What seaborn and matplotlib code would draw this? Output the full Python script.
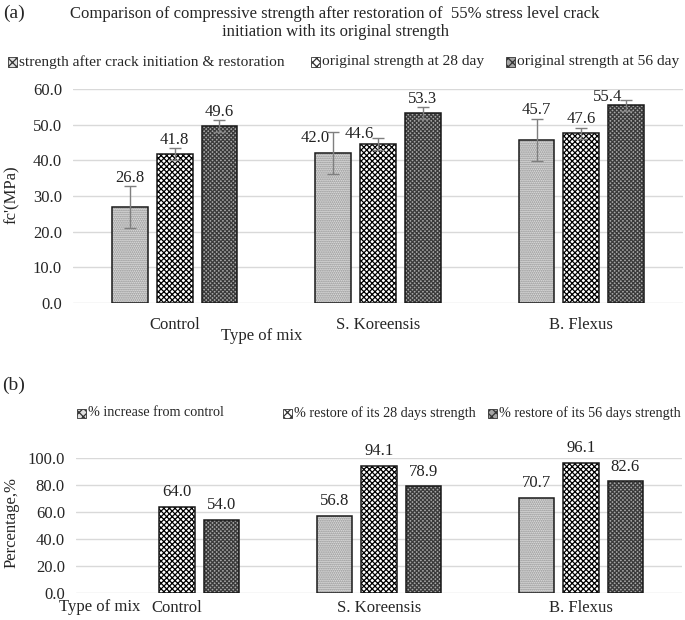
import numpy as np
import pandas as pd
import matplotlib
matplotlib.use("Agg")
import matplotlib.pyplot as plt
import seaborn as sns
from matplotlib.patches import Rectangle

# ---------------- data ----------------
mixes = ["Control", "S. Koreensis", "B. Flexus"]

a_series = ["strength after crack initiation & restoration",
            "original strength at 28 day",
            "original strength at 56 day"]
a_restored = [26.8, 42.0, 45.7]
a_orig28 = [41.8, 44.6, 47.6]
a_orig56 = [49.6, 53.3, 55.4]
a_err_restored = [5.9, 5.9, 6.0]
a_err_orig28 = [1.7, 1.6, 1.6]
a_err_orig56 = [1.6, 1.7, 1.6]

b_series = ["% increase from control",
            "% restore of its 28 days strength",
            "% restore of its 56 days strength"]
b_increase = [np.nan, 56.8, 70.7]
b_restore28 = [64.0, 94.1, 96.1]
b_restore56 = [54.0, 78.9, 82.6]

a_ticks = [0, 10, 20, 30, 40, 50, 60]
b_ticks = [0, 20, 40, 60, 80, 100]

# ---------------- style ----------------
sns.set_theme(style="white")
plt.rcParams["font.family"] = ["Liberation Serif", "DejaVu Serif"]
plt.rcParams["font.size"] = 12
plt.rcParams["hatch.linewidth"] = 0.9

FS = 12
styles = [
    dict(facecolor="#e0e0e0", hatch="........", edgecolor="#8a8a8a"),
    dict(facecolor="#ffffff", hatch="xxxxxx", edgecolor="#000000"),
    dict(facecolor="#a6a6a6", hatch="xxxxxxxx", edgecolor="#3a3a3a"),
]
OUTLINE = "#1a1a1a"
GRID = "#d9d9d9"
ERR = "#7f7f7f"

fig = plt.figure(figsize=(6.85, 6.2), dpi=100)
W, H = 685.0, 620.0


def px_axes(l, t, r, b):
    return fig.add_axes([l / W, 1 - b / H, (r - l) / W, (b - t) / H])


def build_df(series_names, cols):
    rows = []
    for s, vals in zip(series_names, cols):
        for m, v in zip(mixes, vals):
            rows.append(dict(mix=m, series=s, value=v))
    return pd.DataFrame(rows)


def style_axes(ax, ticks, ymax, xpad):
    ax.set_ylim(0, ymax)
    ax.set_xlim(-0.5, 2.5)
    ax.set_yticks(ticks)
    ax.set_yticklabels([f"{t:.1f}" for t in ticks], fontsize=FS)
    ax.tick_params(axis="y", length=0, pad=8)
    ax.tick_params(axis="x", length=0, pad=xpad, labelsize=FS)
    for sp in ax.spines.values():
        sp.set_visible(False)
    ax.yaxis.grid(True, color=GRID, lw=1)
    ax.set_axisbelow(True)
    ax.set_xlabel("")
    ax.set_ylabel("")
    if ax.get_legend():
        ax.get_legend().remove()


def apply_styles(ax, conts):
    for cont, st in zip(conts, styles):
        for bar in cont:
            bar.set_facecolor(st["facecolor"])
            bar.set_hatch(st["hatch"])
            bar.set_edgecolor(st["edgecolor"])
            bar.set_linewidth(0)
            h = bar.get_height()
            if np.isnan(h):
                continue
            ax.add_patch(Rectangle((bar.get_x(), bar.get_y()), bar.get_width(), h,
                                   fill=False, edgecolor=OUTLINE, lw=1.1, zorder=bar.get_zorder() + 0.1))


def legend_row(y, xs, labels, fs):
    for x, lab, st in zip(xs, labels, styles):
        fig.add_artist(Rectangle((x / W, 1 - (y + 4.5) / H), 9 / W, 9 / H,
                                 transform=fig.transFigure, lw=0.6,
                                 facecolor=st["facecolor"], hatch="xxxx",
                                 edgecolor="#333333"))
        fig.text((x + 11) / W, 1 - y / H, lab, ha="left", va="center", fontsize=fs)


# ---------------- (a) ----------------
axA = px_axes(73, 89, 683, 303)
dfa = build_df(a_series, [a_restored, a_orig28, a_orig56])
sns.barplot(data=dfa, x="mix", y="value", hue="series", order=mixes,
            hue_order=a_series, errorbar=None, width=0.66, gap=0.2,
            ax=axA, legend=False)
style_axes(axA, a_ticks, 60, 10)
contsA = list(axA.containers)
apply_styles(axA, contsA)

a_errs = [a_err_restored, a_err_orig28, a_err_orig56]
a_vals = [a_restored, a_orig28, a_orig56]
# labels that Excel placed beside (left of) the error bar
beside = {(1, 0): 4.3, (1, 1): 2.8, (2, 2): 2.4}
for si, cont in enumerate(contsA):
    for ci, bar in enumerate(cont):
        xc = bar.get_x() + bar.get_width() / 2
        h = bar.get_height()
        e = a_errs[si][ci]
        axA.errorbar(xc, h, yerr=e, fmt="none", ecolor=ERR, elinewidth=1.0,
                     capsize=4, capthick=1.0, zorder=5)
        if (ci, si) in beside:
            tx, ty = xc - 0.09, h + beside[(ci, si)]
        else:
            tx, ty = xc, h + e + 2.3
        axA.text(tx, ty, f"{a_vals[si][ci]:.1f}", ha="center", va="center",
                 fontsize=FS, color="#222222", clip_on=False)

fig.text(262 / W, 1 - 336 / H, "Type of mix", ha="center", va="center", fontsize=FS)
fig.text(12 / W, 1 - 195 / H, "fc'(MPa)", rotation=90, ha="center", va="center", fontsize=FS)
fig.text(3 / W, 1 - 13 / H, "(a)", ha="left", va="center", fontsize=14)
fig.text(335 / W, 1 - 23 / H,
         "Comparison of compressive strength after restoration of  55% stress level crack\ninitiation with its original strength",
         ha="center", va="center", fontsize=FS, linespacing=1.25)

legend_row(62, [8, 311, 506], a_series, 11.1)

# ---------------- (b) ----------------
axB = px_axes(76, 458, 682, 593)
dfb = build_df(b_series, [b_increase, b_restore28, b_restore56])
sns.barplot(data=dfb, x="mix", y="value", hue="series", order=mixes,
            hue_order=b_series, errorbar=None, width=0.66, gap=0.2,
            ax=axB, legend=False)
style_axes(axB, b_ticks, 100, 5)
contsB = list(axB.containers)
apply_styles(axB, contsB)

for cont in contsB:
    for bar in cont:
        h = bar.get_height()
        if np.isnan(h) or h == 0:
            continue
        xc = bar.get_x() + bar.get_width() / 2
        axB.text(xc, h + 11, f"{h:.1f}", ha="center", va="center",
                 fontsize=FS, color="#222222", clip_on=False)

fig.text(100 / W, 1 - 607 / H, "Type of mix", ha="center", va="center", fontsize=FS)
fig.text(12 / W, 1 - 522 / H, "Percentage,%", rotation=90, ha="center", va="center", fontsize=FS)
fig.text(2 / W, 1 - 385 / H, "(b)", ha="left", va="center", fontsize=14)

legend_row(413, [77, 283, 488], b_series, 10.2)

fig.savefig("out.png", dpi=100)
